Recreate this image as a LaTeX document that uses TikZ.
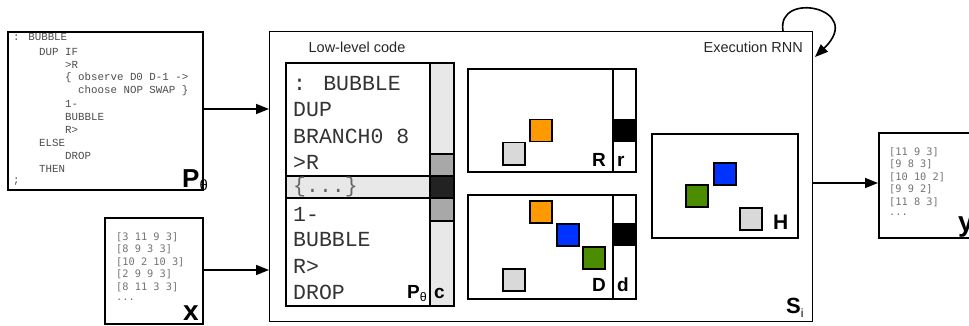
\documentclass[tikz,border=0pt]{standalone}
\usepackage{fontspec}
\usetikzlibrary{arrows.meta}
\newfontfamily\hv{Liberation Sans}
\newfontfamily\cour{Liberation Mono}
\newfontfamily\djm{DejaVu Sans Mono}
\definecolor{sqorange}{HTML}{FF9900}
\definecolor{sqblue}{HTML}{0033FF}
\definecolor{sqgreen}{HTML}{4C8C00}
\definecolor{sqgray}{HTML}{D9D9D9}
\definecolor{celllight}{HTML}{E8E8E8}
\definecolor{cellmid}{HTML}{A8A8A8}
\definecolor{celldark}{HTML}{222222}
\begin{document}
\begin{tikzpicture}[x=1pt,y=-1pt,
  box/.style={draw=black,line width=1.7pt},
  sq/.style={draw=black,line width=1.5pt,minimum size=22pt,inner sep=0pt},
  conn/.style={line width=1.6pt,-{Triangle[length=13pt,width=10pt]}},
  srccode/.style={anchor=west,inner sep=0pt,font=\cour\fontsize{10.8}{13}\selectfont,text=black!70},
  lowcode/.style={anchor=west,inner sep=0pt,font=\cour\fontsize{21.5}{25}\selectfont,text=black!80},
  data/.style={anchor=west,inner sep=0pt,font=\djm\fontsize{10.3}{12}\selectfont,text=black!55},
  lbl/.style={anchor=base west,inner sep=0pt,font=\hv\bfseries\fontsize{19}{19}\selectfont},
  title/.style={anchor=base,inner sep=0pt,font=\hv\fontsize{14.5}{14}\selectfont,text=black!85}]
\useasboundingbox (0,0) rectangle (969,326);

% ---------- source program box P_theta ----------
\node[box,minimum width=195pt,minimum height=158pt,anchor=north west,inner sep=0pt] (P) at (7,31) {};
\node[srccode] (p1) at (13,37) {: BUBBLE};
\node[srccode] (p2) at (39,52) {DUP IF};
\node[srccode] (p3) at (65,65) {>R};
\node[srccode] (p4) at (65,78) {\{ observe D0 D-1 ->};
\node[srccode] (p5) at (78,91) {choose NOP SWAP \}};
\node[srccode] (p6) at (65,104) {1-};
\node[srccode] (p7) at (65,117) {BUBBLE};
\node[srccode] (p8) at (65,130) {R>};
\node[srccode] (p9) at (39,143) {ELSE};
\node[srccode] (p10) at (65,156) {DROP};
\node[srccode] (p11) at (39,169) {THEN};
\node[srccode] (p12) at (13,182) {;};
\node[lbl,font=\hv\bfseries\fontsize{26}{26}\selectfont] (Plbl) at (182,187) {P\raisebox{-3pt}{\fontsize{15}{15}\selectfont\mdseries θ}};

% ---------- input box x ----------
\node[box,minimum width=98pt,minimum height=106pt,anchor=north west,inner sep=0pt] (X) at (104,217) {};
\node[data] (x1) at (116,237) {[3 11 9 3]};
\node[data] (x2) at (116,249.5) {[8 9 3 3]};
\node[data] (x3) at (116,262) {[10 2 10 3]};
\node[data] (x4) at (116,274.5) {[2 9 9 3]};
\node[data] (x5) at (116,287) {[8 11 3 3]};
\node[data] (x6) at (116,299.5) {...};
\node[lbl,font=\hv\bfseries\fontsize{28}{28}\selectfont] (Xlbl) at (183,320) {x};

% ---------- main box (execution RNN) ----------
\node[draw=black,line width=1.4pt,minimum width=543pt,minimum height=290pt,anchor=north west,inner sep=0pt] (S) at (269,31) {};
\coordinate (Pin) at (269,109);
\coordinate (Xin) at (269,270);
\node[title] (lowt) at (357,53) {Low-level code};
\node[title,anchor=base east] (exect) at (803,53) {Execution RNN};
\node[lbl,font=\hv\bfseries\fontsize{22}{22}\selectfont] (Slbl) at (786,313) {S\raisebox{-4pt}{\fontsize{12}{12}\selectfont\mdseries i}};

% ---------- low-level code box ----------
\fill[celllight] (430,62) rectangle (453,305);
\fill[cellmid] (430,154) rectangle (453,176);
\fill[celldark] (430,176) rectangle (453,198);
\fill[cellmid] (430,198) rectangle (453,221);
\fill[celllight] (285,176) rectangle (430,198);
\node[box,minimum width=168pt,minimum height=243pt,anchor=north west,inner sep=0pt] (code) at (285,62) {};
\draw[line width=1.6pt] (430,62) -- (430,305);
\draw[line width=1.6pt] (285,176) -- (453,176);
\draw[line width=1.6pt] (285,198) -- (453,198);
\draw[line width=1.2pt] (430,154) -- (453,154);
\draw[line width=1.2pt] (430,221) -- (453,221);
\node[lowcode] (l1) at (293,84) {: BUBBLE};
\node[lowcode] (l2) at (293,110) {DUP};
\node[lowcode] (l3) at (293,136) {BRANCH0 8};
\node[lowcode] (l4) at (293,162) {>R};
\node[lowcode,text=black!60] (l5) at (293,187) {\{...\}};
\node[lowcode] (l6) at (293,214) {1-};
\node[lowcode] (l7) at (293,240) {BUBBLE};
\node[lowcode] (l8) at (293,266) {R>};
\node[lowcode] (l9) at (293,292) {DROP};
\node[lbl] (Pclbl) at (407,298) {P\raisebox{-3pt}{\fontsize{12.5}{12}\selectfont\mdseries θ}};
\node[lbl] (clbl) at (434,298) {c};

% ---------- R box ----------
\node[box,minimum width=168pt,minimum height=103pt,anchor=north west,inner sep=0pt] (R) at (467,68) {};
\fill[black] (613,119) rectangle (635,142);
\draw[line width=1.6pt] (613,68) -- (613,171);
\node[sq,fill=sqorange,anchor=north west] (Ro) at (529,119) {};
\node[sq,fill=sqgray,anchor=north west] (Rg) at (502,142) {};
\node[lbl] (Rlbl) at (592,166) {R};
\node[lbl] (rlbl) at (617,166) {r};

% ---------- D box ----------
\node[box,minimum width=168pt,minimum height=104pt,anchor=north west,inner sep=0pt] (D) at (467,194) {};
\fill[black] (613,223) rectangle (635,246);
\draw[line width=1.6pt] (613,194) -- (613,298);
\node[sq,fill=sqorange,anchor=north west] (Do) at (529,200) {};
\node[sq,fill=sqblue,anchor=north west] (Db) at (556,223) {};
\node[sq,fill=sqgreen,anchor=north west] (Dgr) at (582,246) {};
\node[sq,fill=sqgray,anchor=north west] (Dg) at (502,268) {};
\node[lbl] (Dlbl) at (592,291) {D};
\node[lbl] (dlbl) at (617,291) {d};

% ---------- H box ----------
\node[box,minimum width=146pt,minimum height=104pt,anchor=north west,inner sep=0pt] (H) at (651,133) {};
\node[sq,fill=sqblue,anchor=north west] (Hb) at (713,162) {};
\node[sq,fill=sqgreen,anchor=north west] (Hgr) at (685,184) {};
\node[sq,fill=sqgray,anchor=north west] (Hg) at (739,207) {};
\node[lbl,font=\hv\bfseries\fontsize{21}{21}\selectfont] (Hlbl) at (773,229) {H};

% ---------- output box y ----------
\node[box,minimum width=120pt,minimum height=105pt,anchor=north west,inner sep=0pt] (Y) at (878,132) {};
\node[data] (y1) at (889,152) {[11 9 3]};
\node[data] (y2) at (889,164.5) {[9 8 3]};
\node[data] (y3) at (889,177) {[10 10 2]};
\node[data] (y4) at (889,189.5) {[9 9 2]};
\node[data] (y5) at (889,202) {[11 8 3]};
\node[data] (y6) at (889,214.5) {...};
\node[lbl,font=\hv\bfseries\fontsize{28}{28}\selectfont] (Ylbl) at (958,231) {y};

% ---------- connectors ----------
\coordinate (Pout) at (202,109);
\coordinate (Xout) at (202,270);
\coordinate (Sout) at (812,183);
\coordinate (Yin) at (878,183);
\draw[conn] (Pout) -- (Pin);
\draw[conn] (Xout) -- (Xin);
\draw[conn] (Sout) -- (Yin);
\coordinate (loopA) at (783,31);
\coordinate (loopB) at (815,57);
\draw[conn] (loopA) .. controls (776,-10) and (866,8) .. (loopB);
\end{tikzpicture}
\end{document}
